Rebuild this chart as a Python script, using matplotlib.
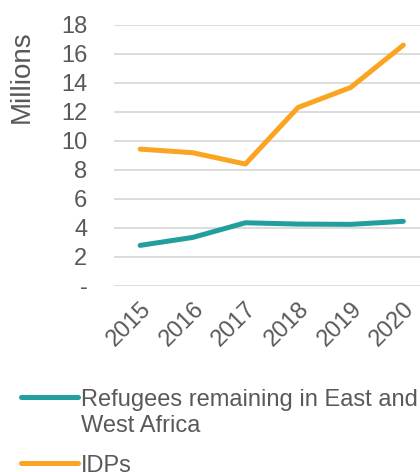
import matplotlib
matplotlib.use("Agg")
import matplotlib.pyplot as plt
from matplotlib.ticker import FuncFormatter
from matplotlib.legend_handler import HandlerLine2D
from matplotlib.transforms import ScaledTranslation

years = ["2015", "2016", "2017", "2018", "2019", "2020"]
refugees = [2.78, 3.33, 4.34, 4.25, 4.23, 4.44]
idps = [9.42, 9.17, 8.39, 12.29, 13.67, 16.59]
labels = ["Refugees remaining in East and\nWest Africa", "IDPs"]

teal = "#229E9C"
orange = "#FBA422"
grey = "#595959"

plt.rcParams["font.family"] = ["Liberation Sans", "DejaVu Sans"]


class TopHandler(HandlerLine2D):
    # legend key aligned with first line of a two-line label
    def __init__(self, dy, **kw):
        super().__init__(**kw)
        self.dy = dy

    def create_artists(self, legend, orig_handle, xdescent, ydescent, width, height, fontsize, trans):
        arts = super().create_artists(legend, orig_handle, xdescent, ydescent, width, height, fontsize, trans)
        for a in arts:
            a.set_ydata([y + self.dy for y in a.get_ydata()])
        return arts


fig = plt.figure(figsize=(4.2, 4.72), dpi=100)
ax = fig.add_axes([0.271, 0.3947, 0.752, 0.553])

x = range(len(years))
l1, = ax.plot(x, refugees, color=teal, lw=3.6, solid_capstyle="round", label=labels[0])
l2, = ax.plot(x, idps, color=orange, lw=3.6, solid_capstyle="round", label=labels[1])

ax.set_xlim(-0.5, len(years) - 0.5)
ax.set_ylim(0, 18)
ax.set_yticks(range(0, 19, 2))
ax.yaxis.set_major_formatter(FuncFormatter(lambda v, p: "-" if v == 0 else "%d" % v))
ax.set_xticks(list(x))
ax.set_xticklabels(years, rotation=45, ha="right", va="top", rotation_mode="anchor")
shift = ScaledTranslation(-0.06, -0.06, fig.dpi_scale_trans)
for t in ax.get_xticklabels():
    t.set_transform(t.get_transform() + shift)

ax.grid(axis="y", color="#D9D9D9", lw=1.3)
ax.set_axisbelow(True)
for s in ax.spines.values():
    s.set_visible(False)
ax.tick_params(axis="both", length=0, labelsize=17, labelcolor=grey)
ax.tick_params(axis="y", pad=19)
ax.tick_params(axis="x", pad=9)
ax.set_ylabel("Millions", fontsize=20, color=grey)
ax.yaxis.set_label_coords(-0.25, 0.80)

fig.legend(loc="upper left", bbox_to_anchor=(0.05, 0.175), frameon=False,
           fontsize=17, labelcolor=grey, handlelength=2.4, handletextpad=0.15,
           labelspacing=0.75, borderaxespad=0, borderpad=0,
           handler_map={l1: TopHandler(11.5)})

fig.savefig("out.png", dpi=100)
